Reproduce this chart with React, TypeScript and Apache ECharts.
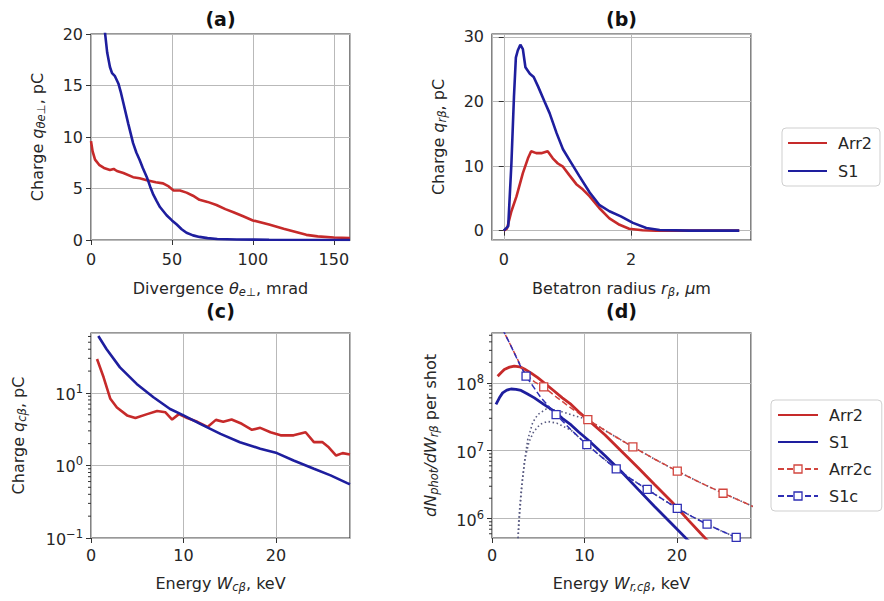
import React, { useEffect, useRef } from 'react';
import * as echarts from 'echarts';

type P = [number, number];

const F = 'DejaVu Sans';
const TXT = '#262626';
const RED = '#c62a2a';
const BLUE = '#1e1e9e';
const RED_D = '#d2453e';
const BLUE_D = '#2e2eb4';
const GREY_DOT = '#585a80';

// ---------- panel (a): charge vs divergence ----------
const aArr2: P[] = [
  [0, 9.6], [1, 8.6], [2.5, 7.8], [5, 7.3], [8, 7.0], [11.7, 6.8], [14, 6.9], [16, 6.7], [20, 6.5],
  [26, 6.1], [30, 6.0], [34.5, 5.8], [40, 5.6], [44.5, 5.5], [48, 5.2], [51, 4.8], [55, 4.8], [59, 4.6],
  [63, 4.3], [67, 3.9], [72, 3.7], [77.5, 3.4], [83, 3.0], [88, 2.7], [94, 2.3], [100, 1.9], [110, 1.5],
  [119, 1.1], [126, 0.8], [133, 0.5], [140, 0.35], [150, 0.25], [160, 0.2],
];
const aS1: P[] = [
  [0, 42], [3, 32], [6, 25], [8.6, 20.2], [10, 18.2], [11.7, 16.8], [13, 16.2], [14.8, 15.9], [16.9, 15.2],
  [18.5, 14.3], [20, 13.3], [23, 11.3], [26, 9.4], [28, 8.5], [30, 7.8], [32, 7.0], [34.5, 6.1], [36.5, 5.2],
  [38.5, 4.4], [40.5, 3.8], [42.6, 3.2], [46.7, 2.4], [50, 1.9], [53, 1.5], [56, 1.05], [59, 0.7], [63, 0.45],
  [67, 0.3], [72, 0.18], [78, 0.1], [90, 0.05], [110, 0.02], [160, 0],
];

// ---------- panel (b): charge vs betatron radius ----------
const bArr2: P[] = [
  [0, 0], [0.05, 0.3], [0.12, 3.0], [0.2, 5.3], [0.3, 8.9], [0.38, 11.2], [0.43, 12.3], [0.51, 12.0],
  [0.59, 12.0], [0.69, 12.3], [0.77, 11.2], [0.85, 10.4], [0.93, 9.9], [1.03, 8.6], [1.14, 7.2], [1.24, 6.4],
  [1.35, 5.3], [1.5, 3.5], [1.66, 1.9], [1.82, 0.9], [1.97, 0.3], [2.18, 0.05], [2.39, 0], [3.7, 0],
];
const bS1: P[] = [
  [0, 0], [0.07, 0.7], [0.12, 10.4], [0.16, 20.7], [0.19, 26.8], [0.22, 27.9], [0.26, 28.8], [0.3, 28.1],
  [0.34, 25.3], [0.41, 24.3], [0.47, 23.8], [0.54, 22.3], [0.64, 20.0], [0.72, 18.2], [0.83, 15.1],
  [0.93, 12.6], [1.06, 10.5], [1.19, 8.4], [1.35, 5.9], [1.5, 4.0], [1.66, 3.0], [1.84, 2.2], [2.03, 1.2],
  [2.24, 0.4], [2.45, 0.1], [2.92, 0], [3.7, 0],
];

// ---------- panel (c): charge vs energy (log) ----------
const cArr2: P[] = [
  [0.65, 29.3], [1.37, 16.3], [2.09, 8.3], [2.8, 6.3], [3.9, 4.9], [4.8, 4.5], [6.07, 5.1], [7.15, 5.65],
  [8.05, 5.4], [8.77, 4.3], [9.5, 5.1], [10.4, 4.5], [11.5, 4.0], [12.6, 3.4], [13.5, 4.25], [14.3, 4.0],
  [15.2, 4.3], [16.3, 3.75], [17.4, 3.1], [18.3, 3.3], [19.4, 2.87], [20.5, 2.6], [21.9, 2.6], [23.2, 2.87],
  [24.1, 2.1], [25, 2.1], [25.7, 1.78], [26.5, 1.37], [27.2, 1.48], [28, 1.42],
];
const cS1: P[] = [
  [0.79, 61], [1.69, 40], [3.13, 22.5], [4.94, 13.3], [6.75, 8.7], [8.55, 6.0], [10, 4.9], [11.8, 3.75],
  [14, 2.73], [16.1, 2.09], [18.3, 1.7], [20.1, 1.48], [21.9, 1.17], [24.1, 0.9], [25.9, 0.73], [27.7, 0.57],
  [28, 0.55],
];

// ---------- panel (d): photon spectra (log) ----------
const dArr2: P[] = [
  [0.61, 1.25e8], [1.0, 1.42e8], [1.33, 1.57e8], [1.9, 1.7e8], [2.41, 1.76e8], [3.0, 1.72e8], [3.5, 1.6e8],
  [4.2, 1.4e8], [4.94, 1.19e8], [5.8, 9.6e7], [6.75, 7.5e7], [7.6, 6.0e7], [8.55, 4.8e7], [9.4, 3.7e7],
  [10.36, 2.87e7], [12.2, 1.72e7], [14, 9.8e6], [15.8, 5.6e6], [17.6, 3.16e6], [19.4, 1.79e6],
  [21.2, 9.6e5], [22.6, 6.0e5], [23.4, 4.6e5], [24.5, 3.2e5],
];
const dS1: P[] = [
  [0.43, 4.8e7], [0.8, 6.0e7], [1.15, 7.1e7], [1.6, 7.8e7], [2.05, 8.1e7], [2.6, 8.0e7], [3.14, 7.7e7],
  [3.8, 6.9e7], [4.58, 6.0e7], [5.6, 4.8e7], [6.75, 3.8e7], [7.6, 3.0e7], [8.55, 2.4e7], [9.4, 1.87e7],
  [10.36, 1.45e7], [12.2, 8.5e6], [14, 4.9e6], [15.8, 2.7e6], [17.6, 1.5e6], [19.4, 8.5e5], [21.2, 4.8e5],
  [22.5, 3.3e5],
];
const dArr2c: P[] = [
  [0.8, 9.0e8], [1.15, 6.1e8], [2.0, 3.6e8], [3.0, 1.9e8], [3.7, 1.32e8], [4.6, 1.03e8], [5.59, 8.7e7],
  [7.0, 6.1e7], [8.6, 4.2e7], [10.36, 2.87e7], [12.8, 1.78e7], [15.23, 1.14e7], [17.6, 7.5e6],
  [20.03, 5.0e6], [22.5, 3.4e6], [24.98, 2.37e6], [27.4, 1.7e6], [29.8, 1.2e6],
];
const dArr2cMarkX: number[] = [0.8, 5.59, 10.36, 15.23, 20.03, 24.98, 29.8];
const dS1c: P[] = [
  [0.43, 1.1e9], [1.15, 6.1e8], [2.0, 3.6e8], [3.0, 1.85e8], [3.68, 1.25e8], [5.3, 6.0e7], [6.93, 3.4e7],
  [8.6, 2.0e7], [10.25, 1.23e7], [11.8, 8.2e6], [13.43, 5.4e6], [15.1, 3.8e6], [16.78, 2.7e6],
  [18.4, 1.95e6], [20.03, 1.42e6], [21.6, 1.08e6], [23.25, 8.3e5], [24.8, 6.6e5], [26.4, 5.3e5], [28.5, 4.0e5],
];
const dS1cMarkX: number[] = [0.43, 3.68, 6.93, 10.25, 13.43, 16.78, 20.03, 23.25, 26.4];
const dDot1: P[] = [
  [2.8, 4.5e5], [2.85, 6e5], [3.0, 1.2e6], [3.13, 2.1e6], [3.3, 3.8e6], [3.49, 6.6e6], [3.86, 1.45e7],
  [4.4, 2.6e7], [4.94, 3.4e7], [5.84, 4.1e7], [6.8, 4.0e7], [8.0, 3.6e7], [9.0, 3.25e7], [10.36, 2.87e7],
  [12.8, 1.78e7], [15.23, 1.14e7], [17.6, 7.5e6], [20.03, 5.0e6], [22.5, 3.4e6], [24.98, 2.37e6],
  [27.4, 1.7e6], [29.8, 1.2e6],
];
const dDot2: P[] = [
  [2.8, 4.5e5], [2.9, 1.0e6], [3.2, 3.0e6], [3.6, 8.0e6], [4.0, 1.35e7], [4.5, 1.9e7], [5.2, 2.45e7],
  [6.0, 2.7e7], [7.0, 2.55e7], [8.55, 2.0e7], [10.25, 1.23e7], [11.8, 8.2e6], [13.43, 5.4e6], [15.1, 3.8e6],
  [16.78, 2.7e6], [18.4, 1.95e6], [20.03, 1.42e6], [21.6, 1.08e6], [23.25, 8.3e5], [24.8, 6.6e5],
  [26.4, 5.3e5], [28.5, 4.0e5],
];

// ---------- ticks / labels ----------
const panelTitles = ['(a)', '(b)', '(c)', '(d)'];
const cMinorTicks: number[] = [0.2, 0.3, 0.4, 0.5, 0.6, 0.7, 0.8, 0.9, 2, 3, 4, 5, 6, 7, 8, 9, 20, 30, 40, 50, 60];
const dMinorTicks: number[] = [
  6e5, 7e5, 8e5, 9e5, 2e6, 3e6, 4e6, 5e6, 6e6, 7e6, 8e6, 9e6, 2e7, 3e7, 4e7, 5e7, 6e7, 7e7, 8e7, 9e7,
  2e8, 3e8, 4e8, 5e8,
];
const legend1Names = ['Arr2', 'S1'];
const legend2Names = ['Arr2', 'S1', 'Arr2c', 'S1c'];

const RICH: any = {
  n: { fontSize: 16, fontFamily: F, color: TXT, lineHeight: 20 },
  i: { fontSize: 16, fontFamily: F, color: TXT, lineHeight: 20, fontStyle: 'italic' },
  s: { fontSize: 11.5, fontFamily: F, color: TXT, lineHeight: 9, fontStyle: 'italic', verticalAlign: 'bottom' },
};
const LOGRICH: any = {
  b: { fontSize: 16, fontFamily: F, color: TXT, lineHeight: 20, padding: [3, 0, 0, 0] },
  p: { fontSize: 11.5, fontFamily: F, color: TXT, lineHeight: 9, verticalAlign: 'top' },
};
const logFmt = (v: number) => {
  const e = Math.round(Math.log10(v));
  return `{b|10}{p|${e < 0 ? '−' + -e : e}}`;
};

const GRIDS = [
  { left: 91, top: 34, width: 259, height: 206 },
  { left: 492, top: 34, width: 259, height: 206 },
  { left: 91, top: 333, width: 259, height: 205 },
  { left: 492, top: 333, width: 259, height: 205 },
];

function axisBase(gridIndex: number, extra: any): any {
  const base: any = {
    gridIndex,
    nameLocation: 'middle',
    nameMoveOverlap: false,
    nameTextStyle: { fontFamily: F, fontSize: 16, color: TXT, rich: RICH },
    axisLine: { show: false },
    axisTick: { show: true, length: 5, lineStyle: { color: '#333', width: 1 } },
    splitLine: { show: true, lineStyle: { color: '#b9b9b9', width: 1 } },
    axisLabel: { fontFamily: F, fontSize: 16, color: TXT, showMinLabel: true, showMaxLabel: true },
  };
  const out = { ...base, ...extra };
  out.axisLabel = { ...base.axisLabel, ...(extra.axisLabel || {}) };
  return out;
}

function lineSeries(name: string, data: any[], idx: number, color: string, width: number, type: any = 'solid', extra: any = {}): any {
  return {
    type: 'line',
    name,
    data,
    xAxisIndex: idx,
    yAxisIndex: idx,
    symbol: 'none',
    clip: true,
    silent: true,
    lineStyle: { color, width, type },
    itemStyle: { color },
    z: 3,
    ...extra,
  };
}

function markedData(curve: P[], markX: number[]): any[] {
  return curve.map((p) => ({ value: p, symbol: markX.includes(p[0]) ? 'rect' : 'none' }));
}

// minor ticks of the log axes, placed through the axis scale
function minorTickSeries(idx: number, vals: number[]): any {
  return {
    type: 'custom',
    name: 'minor' + idx,
    xAxisIndex: idx,
    yAxisIndex: idx,
    silent: true,
    clip: false,
    data: vals.map((v) => [0, v]),
    renderItem: (params: any, api: any) => {
      const pt = api.coord([api.value(0), api.value(1)]);
      return {
        type: 'line',
        shape: { x1: pt[0] - 3, y1: pt[1], x2: pt[0], y2: pt[1] },
        style: { stroke: '#333', lineWidth: 1 },
      };
    },
  };
}

const legendBase = {
  orient: 'vertical',
  itemWidth: 40,
  itemHeight: 10,
  selectedMode: false,
  borderColor: '#cfcfcf',
  borderWidth: 1,
  borderRadius: 4,
  backgroundColor: '#ffffff',
  textStyle: { fontFamily: F, fontSize: 16, color: TXT, padding: [0, 0, 0, 6] },
};
const legendItem = (n: string) =>
  n === 'Arr2' || n === 'S1' ? { name: n, itemStyle: { opacity: 0 } } : { name: n, itemStyle: { borderWidth: 1.3 } };

const option: any = {
  animation: false,
  backgroundColor: '#ffffff',
  grid: GRIDS.map((g) => ({ ...g, show: true, borderColor: '#333333', borderWidth: 1.2, backgroundColor: 'transparent', outerBoundsMode: 'none', containLabel: false })),
  graphic: panelTitles.map((t, i) => ({
    type: 'text',
    x: GRIDS[i].left + GRIDS[i].width / 2,
    y: i < 2 ? 19 : 311,
    style: {
      text: t,
      fontSize: 19,
      fontWeight: 'bold',
      fontFamily: F,
      fill: '#111',
      align: 'center',
      verticalAlign: 'middle',
      textAlign: 'center',
      textVerticalAlign: 'middle',
    },
  })),
  legend: [
    { ...legendBase, data: legend1Names.map(legendItem), left: 782, top: 128, itemWidth: 39, itemGap: 12, padding: [7, 8, 7, 5] },
    { ...legendBase, data: legend2Names.map(legendItem), left: 771, top: 400, itemGap: 11, padding: [7, 10, 7, 6] },
  ],
  xAxis: [
    axisBase(0, { type: 'value', min: 0, max: 160, interval: 50, nameGap: 38, name: '{n|Divergence }{i|θ}{s|e⊥}{n|, mrad}', axisLabel: { margin: 11, showMaxLabel: false } }),
    axisBase(1, { type: 'value', min: -0.185, max: 3.885, splitNumber: 2, nameGap: 38, name: '{n|Betatron radius }{i|r}{s|β}{n|, }{i|μ}{n|m}', axisLabel: { margin: 11, showMinLabel: false, showMaxLabel: false } }),
    axisBase(2, { type: 'value', min: 0, max: 28, interval: 10, nameGap: 35, name: '{n|Energy }{i|W}{s|cβ}{n|, keV}', axisLabel: { margin: 9, showMaxLabel: false } }),
    axisBase(3, { type: 'value', min: 0, max: 28, interval: 10, nameGap: 35, name: '{n|Energy }{i|W}{s|r,cβ}{n|, keV}', axisLabel: { margin: 9, showMaxLabel: false } }),
  ],
  yAxis: [
    axisBase(0, { type: 'value', position: 'left', min: 0, max: 20, interval: 5, nameGap: 44, name: '{n|Charge }{i|q}{s|θe⊥}{n|, pC}', axisLabel: { margin: 8 } }),
    axisBase(1, { type: 'value', position: 'left', min: -1.45, max: 30.45, splitNumber: 3, nameGap: 44, name: '{n|Charge }{i|q}{s|rβ}{n|, pC}', axisLabel: { margin: 8, showMinLabel: false, showMaxLabel: false } }),
    axisBase(2, { type: 'log', logBase: 10, position: 'left', min: 0.1, max: 67, nameGap: 63, name: '{n|Charge }{i|q}{s|cβ}{n|, pC}', axisLabel: { margin: 8, showMaxLabel: false, formatter: logFmt, rich: LOGRICH } }),
    axisBase(3, { type: 'log', logBase: 10, position: 'left', min: 5.2e5, max: 5.4e8, nameGap: 52, name: '{i|dN}{s|phot}{i|/dW}{s|rβ}{n| per shot}', axisLabel: { margin: 8, showMinLabel: false, showMaxLabel: false, formatter: logFmt, rich: LOGRICH } }),
  ],
  series: [
    lineSeries('Arr2', aArr2, 0, RED, 2.6),
    lineSeries('S1', aS1, 0, BLUE, 2.6),
    lineSeries('Arr2', bArr2, 1, RED, 2.6),
    lineSeries('S1', bS1, 1, BLUE, 2.6),
    lineSeries('Arr2', cArr2, 2, RED, 2.6),
    lineSeries('S1', cS1, 2, BLUE, 2.6),
    lineSeries('dot1', dDot1, 3, GREY_DOT, 1.6, [1.5, 2.6], { z: 2 }),
    lineSeries('dot2', dDot2, 3, GREY_DOT, 1.6, [1.5, 2.6], { z: 2 }),
    lineSeries('Arr2', dArr2, 3, RED, 2.8),
    lineSeries('S1', dS1, 3, BLUE, 2.8),
    lineSeries('Arr2c', markedData(dArr2c, dArr2cMarkX), 3, RED_D, 1.5, [6, 3], {
      symbol: 'rect', symbolSize: 8, showSymbol: true, z: 4,
      itemStyle: { color: '#ffffff', borderColor: RED_D, borderWidth: 1.3 },
    }),
    lineSeries('S1c', markedData(dS1c, dS1cMarkX), 3, BLUE_D, 1.5, [6, 3], {
      symbol: 'rect', symbolSize: 8, showSymbol: true, z: 4,
      itemStyle: { color: '#ffffff', borderColor: BLUE_D, borderWidth: 1.3 },
    }),
    minorTickSeries(2, cMinorTicks),
    minorTickSeries(3, dMinorTicks),
  ],
};

export default function App() {
  const ref = useRef<HTMLDivElement>(null);
  useEffect(() => {
    if (!ref.current) return;
    const chart = echarts.init(ref.current, null, { renderer: 'svg' });
    chart.setOption(option);
    return () => chart.dispose();
  }, []);
  return (
    <div
      ref={ref}
      style={{ position: 'absolute', left: 0, top: 0, width: 884, height: 601, background: '#fff' }}
    />
  );
}
